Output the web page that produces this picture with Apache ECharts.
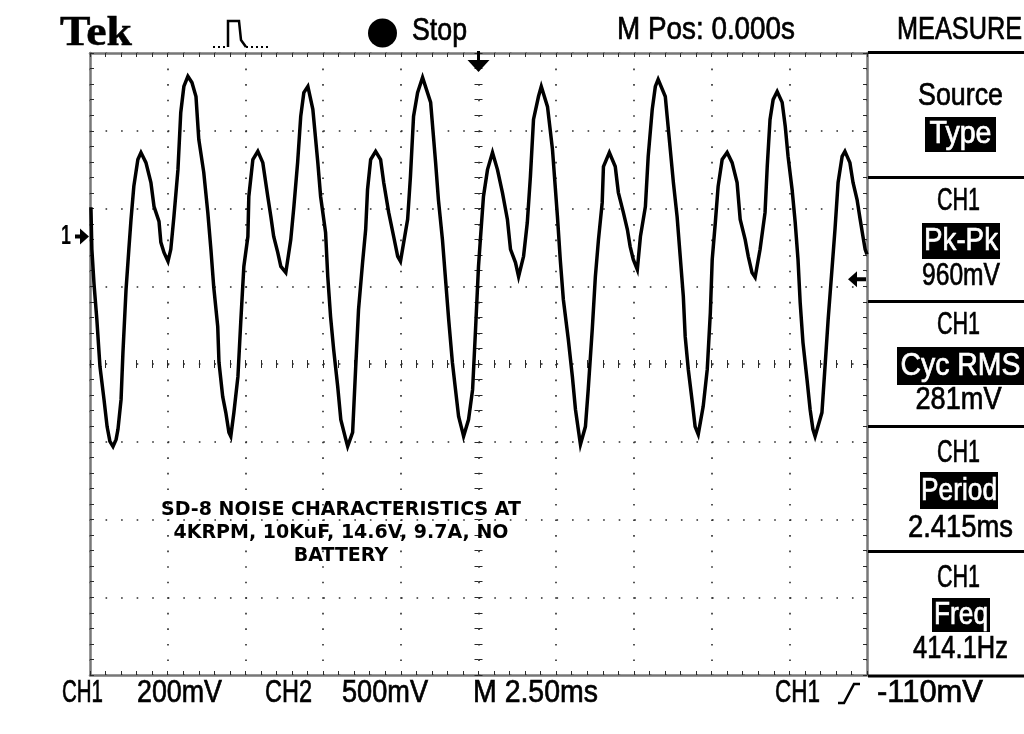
<!DOCTYPE html>
<html><head><meta charset="utf-8">
<script src="https://cdn.jsdelivr.net/npm/echarts@6/dist/echarts.min.js"></script>
<style>html,body{margin:0;padding:0;background:#fff}#c{width:1024px;height:734px}</style>
</head><body><div id="c"></div>
<script>
// ---- DATA ----
// time of each trace point, ms (trigger point = 0)
const timeMs = [-12.47,-12.44,-12.37,-12.28,-12.18,-12.05,-11.95,-11.86,-11.76,-11.66,-11.60,-11.50,-11.44,-11.34,-11.25,-11.18,-11.09,-10.96,-10.86,-10.70,-10.54,-10.44,-10.28,-10.22,-10.12,-9.99,-9.90,-9.80,-9.67,-9.58,-9.48,-9.35,-9.22,-9.09,-9.00,-8.84,-8.71,-8.61,-8.52,-8.39,-8.35,-8.23,-8.13,-8.03,-7.97,-7.87,-7.74,-7.65,-7.55,-7.42,-7.39,-7.26,-7.10,-6.94,-6.78,-6.68,-6.59,-6.46,-6.36,-6.20,-6.04,-5.94,-5.82,-5.72,-5.62,-5.49,-5.33,-5.17,-5.08,-4.92,-4.85,-4.76,-4.66,-4.53,-4.43,-4.27,-4.21,-4.05,-3.95,-3.86,-3.73,-3.63,-3.57,-3.47,-3.31,-3.15,-3.05,-2.89,-2.73,-2.60,-2.51,-2.28,-2.19,-2.09,-1.96,-1.80,-1.54,-1.38,-1.29,-1.16,-1.06,-0.96,-0.84,-0.74,-0.64,-0.51,-0.48,-0.32,-0.19,-0.10,0.00,0.06,0.16,0.29,0.45,0.61,0.77,0.93,1.03,1.19,1.29,1.45,1.57,1.67,1.77,1.93,2.02,2.22,2.38,2.54,2.63,2.73,2.89,3.02,3.12,3.21,3.28,3.44,3.53,3.66,3.76,3.86,3.98,4.02,4.21,4.40,4.50,4.66,4.79,4.88,4.98,5.11,5.21,5.37,5.46,5.59,5.69,5.78,6.01,6.07,6.17,6.27,6.39,6.49,6.59,6.65,6.75,6.88,6.97,7.07,7.23,7.36,7.46,7.52,7.62,7.71,7.84,8.00,8.16,8.32,8.42,8.58,8.68,8.80,8.90,9.06,9.22,9.29,9.38,9.48,9.61,9.77,9.87,9.96,10.09,10.19,10.28,10.35,10.44,10.57,10.67,10.76,10.83,11.05,11.15,11.25,11.38,11.47,11.57,11.70,11.79,11.95,12.05,12.18,12.28,12.37,12.44,12.50];
// CH1 voltage at each point, mV
const ch1mV = [75,-33,-123,-213,-334,-419,-489,-527,-540,-522,-496,-419,-298,-136,-33,44,129,198,216,190,139,77,39,-15,-41,-64,-33,51,172,319,386,412,396,360,250,165,62,-33,-129,-232,-324,-412,-453,-504,-514,-453,-360,-221,-77,0,103,198,219,190,103,51,0,-41,-77,-93,-8,77,190,309,370,386,327,190,103,10,-103,-206,-291,-386,-471,-522,-540,-504,-334,-188,-67,18,121,198,219,198,139,62,0,-51,-64,44,154,309,370,409,345,190,95,-8,-111,-213,-324,-394,-463,-504,-514,-471,-394,-247,-77,-8,103,172,216,172,113,44,-33,-67,-103,-51,36,154,301,360,386,334,224,51,-59,-162,-265,-360,-445,-496,-535,-489,-394,-239,-103,-8,87,180,216,180,113,62,18,-26,-59,-85,0,77,206,327,386,404,360,309,224,139,51,-51,-154,-257,-342,-427,-489,-509,-437,-342,-195,-59,36,129,198,216,190,139,44,-8,-51,-93,-105,-33,62,180,301,352,373,345,283,206,121,36,-59,-170,-273,-368,-445,-496,-514,-453,-334,-213,-77,18,139,206,219,190,139,95,44,0,-33,-46];

const voltsPerDiv = 200;      // CH1 mV/div
const timePerDiv = 2.5;       // ms/div
const divX = 10, divY = 8;
const groundOffsetDiv = 1.64; // CH1 ground marker above centre, divisions
const triggerLevelMv = -110;

const headerTexts = ['Tek', 'Stop', 'M Pos: 0.000s', 'MEASURE'];
const sourceTexts = ['Source', 'Type'];
const measureSources = ['CH1', 'CH1', 'CH1', 'CH1'];
const measureTypes = ['Pk-Pk', 'Cyc RMS', 'Period', 'Freq'];
const measureValues = ['960mV', '281mV', '2.415ms', '414.1Hz'];
const bottomLabels = ['CH1', '200mV', 'CH2', '500mV', 'M 2.50ms', 'CH1', '-110mV'];
const noteLines = ['SD-8 NOISE CHARACTERISTICS AT', '4KRPM, 10KuF, 14.6V, 9.7A, NO', 'BATTERY'];

// ---- CHART ----
const chart = echarts.init(document.getElementById('c'));
const yMin = -(divY / 2 + groundOffsetDiv) * voltsPerDiv;
const yMax = (divY / 2 - groundOffsetDiv) * voltsPerDiv;
const tMin = -divX / 2 * timePerDiv, tMax = divX / 2 * timePerDiv;

const gridColor = '#2a2a2a';
const borderColor = '#777';
const dot = [1.6, 13.95];

function tAxis(pos, opts) {
  return {
    type: 'value', min: tMin, max: tMax, interval: timePerDiv, position: pos,
    axisLine: opts.line ? { show: true, onZero: false, lineStyle: { color: borderColor, width: 2.5 } }
                        : { show: false, onZero: true, onZeroAxisIndex: 1 },
    axisTick: { show: true, inside: opts.inside, length: opts.len, lineStyle: { color: gridColor, width: 1 } },
    minorTick: { show: true, splitNumber: 5, length: opts.len, lineStyle: { color: gridColor, width: 1 } },
    axisLabel: { show: false },
    splitLine: opts.split ? { show: true, lineStyle: { color: gridColor, width: 1.6, type: dot } } : { show: false }
  };
}
function dAxis(pos, opts) {
  return {
    type: 'value', min: -divY / 2, max: divY / 2, interval: 1, position: pos,
    axisLine: opts.line ? { show: true, onZero: false, lineStyle: { color: borderColor, width: 2.5 } }
                        : { show: false, onZero: true, onZeroAxisIndex: 0 },
    axisTick: { show: true, inside: opts.inside, length: opts.len, lineStyle: { color: gridColor, width: 1 } },
    minorTick: { show: true, splitNumber: 5, length: opts.len, lineStyle: { color: gridColor, width: 1 } },
    axisLabel: { show: false },
    splitLine: opts.split ? { show: true, lineStyle: { color: gridColor, width: 1.6, type: dot } } : { show: false }
  };
}

chart.setOption({
  animation: false,
  backgroundColor: '#fff',
  grid: { left: 90, right: 157, top: 53, bottom: 59, containLabel: false },
  xAxis: [
    tAxis('bottom', { line: true, inside: true, len: 4, split: true }),
    tAxis('top', { line: true, inside: true, len: 4, split: false }),
    tAxis('bottom', { line: false, inside: true, len: 4, split: false }),
    tAxis('bottom', { line: false, inside: false, len: 4, split: false })
  ],
  yAxis: [
    { type: 'value', min: yMin, max: yMax, show: false, axisLine: { onZero: false } },
    dAxis('left', { line: true, inside: true, len: 4, split: true }),
    dAxis('right', { line: true, inside: true, len: 4, split: false }),
    dAxis('left', { line: false, inside: true, len: 4, split: false }),
    dAxis('left', { line: false, inside: false, len: 4, split: false })
  ],
  series: [{
    type: 'line', xAxisIndex: 0, yAxisIndex: 0,
    data: timeMs.map((t, i) => [t, ch1mV[i]]),
    showSymbol: false, symbol: 'none', z: 5,
    lineStyle: { color: '#000', width: 3.5, join: 'miter' }
  }]
});

// ---- screen furniture ----
const mctx = document.createElement('canvas').getContext('2d');
function fitText(str, cx, cy, w, o) {
  o = o || {};
  const size = o.size || 32;
  const fam = o.family || 'Liberation Sans';
  const wt = o.weight || 'normal';
  const font = wt + ' ' + size + 'px "' + fam + '"';
  mctx.font = font;
  const mw = mctx.measureText(str).width;
  const fill = o.fill || '#000';
  const sw = o.stroke == null ? 0.7 : o.stroke;
  return { type: 'text', x: cx, y: cy, scaleX: w / mw, z: 100,
    style: { text: str, font: font, fill: fill, stroke: sw ? fill : null, lineWidth: sw,
             align: 'center', verticalAlign: 'middle' } };
}
function rect(x, y, w, h, fill) {
  return { type: 'rect', z: 90, shape: { x: x, y: y, width: w, height: h }, style: { fill: fill || '#000' } };
}
function poly(points, width, dash) {
  return { type: 'polyline', z: 100, shape: { points: points },
    style: { stroke: '#000', lineWidth: width, fill: null, lineDash: dash || null } };
}

const gx0 = chart.convertToPixel({ xAxisIndex: 0 }, 0);
const gyGround = chart.convertToPixel({ yAxisIndex: 0 }, 0);
const gyTrig = chart.convertToPixel({ yAxisIndex: 0 }, triggerLevelMv);

const g = [];
// header
g.push(fitText(headerTexts[0], 96, 33.5, 72, { size: 43, family: 'Liberation Serif', weight: 'bold', stroke: 0.5 }));
g.push(poly([[213, 47], [228, 47]], 2, [2, 3]));
g.push(poly([[228, 47], [228, 21], [239, 21], [241, 40], [246, 47]], 2.5));
g.push(poly([[246, 47], [270, 47]], 2, [2, 3]));
g.push({ type: 'circle', z: 100, shape: { cx: 382.5, cy: 33, r: 14.5 }, style: { fill: '#000' } });
g.push(fitText(headerTexts[1], 439.5, 31, 55));
g.push(fitText(headerTexts[2], 706, 30, 178));
g.push(fitText(headerTexts[3], 959.5, 30, 125));

// side panel separators
[52.5, 177.5, 301.5, 426.5, 551.5, 676].forEach(function (y) { g.push(rect(868, y - 1.5, 156, 3)); });
g.push(fitText(sourceTexts[0], 960.5, 96, 85));
g.push(rect(925, 117, 71, 35));
g.push(fitText(sourceTexts[1], 960.5, 134, 62, { fill: '#fff' }));

const titleY = [201, 325, 453, 578];
const boxes = [[922, 223, 78, 36], [897, 347, 127, 38], [920, 472, 78, 37], [932, 598, 58, 34]];
const typeW = [74, 120, 76, 54];
const valY = [276, 400, 528, 649];
const valX = [961, 958.5, 960.5, 960.5];
const valW = [78, 86, 105, 95];
for (let i = 0; i < 4; i++) {
  g.push(fitText(measureSources[i], 958.5, titleY[i], 43));
  const b = boxes[i];
  g.push(rect(b[0], b[1], b[2], b[3]));
  g.push(fitText(measureTypes[i], b[0] + b[2] / 2, b[1] + b[3] / 2 + 0.5, typeW[i], { fill: '#fff' }));
  g.push(fitText(measureValues[i], valX[i], valY[i], valW[i]));
}

// bottom status line
const botX = [82.5, 179.5, 288.5, 385, 535.5, 797.5, 930];
const botW = [41, 85, 47, 86, 125, 45, 106];
bottomLabels.forEach(function (s, i) { g.push(fitText(s, botX[i], 693, botW[i])); });
g.push(poly([[838, 703], [844, 703], [854, 684], [860, 684]], 2.5));

// ground marker "1"
g.push(fitText('1', 66, gyGround, 10, { weight: 'bold', size: 27, stroke: 0 }));
g.push(rect(75, gyGround - 2, 7, 4));
g.push({ type: 'polygon', z: 100, shape: { points: [[80, gyGround - 8], [80, gyGround + 8], [89, gyGround]] }, style: { fill: '#000' } });
// trigger position marker
g.push(rect(gx0 - 1.5, 51, 3, 10));
g.push({ type: 'polygon', z: 100, shape: { points: [[gx0 - 11, 60], [gx0 + 11, 60], [gx0, 72]] }, style: { fill: '#000' } });
// trigger level marker
g.push(rect(856, gyTrig - 2, 10, 4));
g.push({ type: 'polygon', z: 100, shape: { points: [[848, gyTrig], [857, gyTrig - 8], [857, gyTrig + 8]] }, style: { fill: '#000' } });

// annotation
g.push({ type: 'text', x: 341, y: 498, z: 100,
  style: { text: noteLines.join('\n'), font: 'bold 19px "DejaVu Sans"', fill: '#000',
           align: 'center', verticalAlign: 'top', lineHeight: 23.3 } });

chart.setOption({ graphic: g });
</script>
</body></html>
